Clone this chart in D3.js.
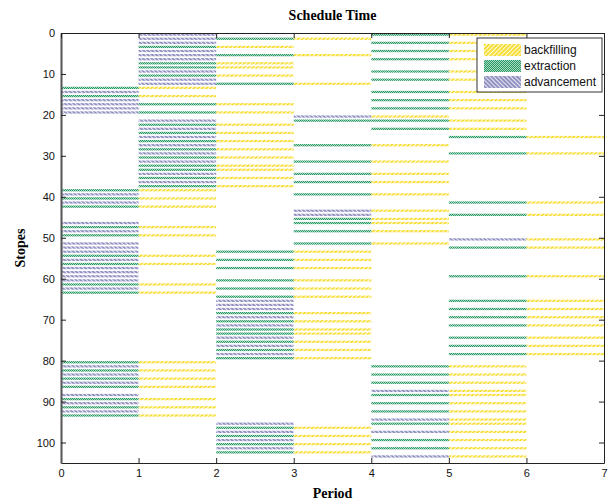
<!DOCTYPE html>
<html>
<head>
<meta charset="utf-8">
<script src="https://cdnjs.cloudflare.com/ajax/libs/d3/7.8.5/d3.min.js"></script>
<style>
    body { margin: 0; background: #fff; }
    #chart-area { width: 608px; height: 503px; }
</style>
</head>
<body>
<div id="chart-area"></div>
<script>

// stope numbers per period (index in the outer array = period)
let advancement = [
    [15, 17, 18, 19, 20, 40, 42, 47, 49, 52, 53, 54, 56, 58, 59, 60, 61, 63, 82, 84, 86, 89, 91, 93],
    [1, 2, 3, 5, 6, 7, 10, 12, 13, 22, 24, 26, 28, 30, 32, 35, 37],
    [66, 67, 68, 70, 72, 75, 77, 79, 96, 98, 100, 102],
    [21, 44, 45],
    [88, 95, 98, 104],
    [51],
    []
];
let extraction = [
    [14, 16, 39, 41, 43, 48, 50, 55, 57, 62, 64, 81, 83, 85, 87, 90, 92, 94],
    [4, 8, 9, 11, 18, 20, 23, 25, 27, 29, 31, 33, 34, 36, 38],
    [2, 6, 13, 54, 56, 58, 61, 63, 65, 69, 71, 73, 74, 76, 78, 80, 97, 99, 101, 103],
    [22, 28, 32, 35, 37, 40, 46, 47, 49, 52],
    [1, 3, 5, 7, 10, 12, 15, 17, 19, 22, 24, 82, 84, 86, 89, 91, 93, 96, 100, 102],
    [26, 30, 42, 45, 53, 60, 66, 68, 70, 72, 75, 77, 79],
    []
];
let backfilling = [
    [],
    [14, 16, 39, 41, 43, 48, 50, 55, 57, 62, 64, 81, 83, 85, 87, 90, 92, 94],
    [4, 8, 9, 11, 18, 20, 23, 25, 27, 29, 31, 33, 34, 36, 38],
    [2, 6, 13, 54, 56, 58, 61, 63, 65, 69, 71, 73, 74, 76, 78, 80, 97, 99, 101, 103],
    [21, 28, 32, 35, 37, 40, 44, 46, 47, 49, 52],
    [1, 3, 5, 7, 10, 12, 15, 17, 19, 22, 24, 82, 84, 86, 88, 89, 91, 93, 95, 96, 98, 100, 102, 104],
    [26, 30, 42, 45, 51, 53, 60, 66, 68, 70, 72, 75, 77, 79]
];

let activities = ["backfilling", "extraction", "advancement"];
let xTicks = [0, 1, 2, 3, 4, 5, 6, 7];
let yTicks = [0, 10, 20, 30, 40, 50, 60, 70, 80, 90, 100];


class ScheduleVis {

    constructor(parentElement) {
        this.parentElement = parentElement;
        this.initVis();
    }

    initVis() {
        let vis = this;

        vis.margin = {top: 33, right: 4, bottom: 40, left: 61};
        vis.width = 608 - vis.margin.left - vis.margin.right;
        vis.height = 503 - vis.margin.top - vis.margin.bottom;

        vis.root = d3.select("#" + vis.parentElement).append("svg")
            .attr("width", 608)
            .attr("height", 503);

        vis.defs = vis.root.append("defs");
        vis.makePatterns();

        vis.svg = vis.root.append("g")
            .attr("transform", `translate(${vis.margin.left}, ${vis.margin.top})`);

        vis.x = d3.scaleLinear()
            .domain([0, 7])
            .range([0, vis.width]);

        vis.y = d3.scaleLinear()
            .domain([0, 105])
            .range([0, vis.height]);

        vis.wrangleData();
    }

    makePatterns() {
        let vis = this;

        // yellow "///" hatch
        let p1 = vis.defs.append("pattern")
            .attr("id", "pat-backfilling")
            .attr("patternUnits", "userSpaceOnUse")
            .attr("width", 3).attr("height", 3)
            .attr("patternTransform", "rotate(45)");
        p1.append("rect").attr("width", 3).attr("height", 3).attr("fill", "#fffbe0");
        p1.append("line").attr("x1", 1).attr("y1", 0).attr("x2", 1).attr("y2", 3)
            .attr("stroke", "#f4d60c").attr("stroke-width", 1.6);

        // green dotted
        let p2 = vis.defs.append("pattern")
            .attr("id", "pat-extraction")
            .attr("patternUnits", "userSpaceOnUse")
            .attr("width", 2).attr("height", 2);
        p2.append("rect").attr("width", 2).attr("height", 2).attr("fill", "#a6dcc0");
        p2.append("rect").attr("width", 1).attr("height", 1).attr("fill", "#2a9565");
        p2.append("rect").attr("x", 1).attr("y", 1).attr("width", 1).attr("height", 1).attr("fill", "#2a9565");

        // blue "\\\" hatch
        let p3 = vis.defs.append("pattern")
            .attr("id", "pat-advancement")
            .attr("patternUnits", "userSpaceOnUse")
            .attr("width", 3).attr("height", 3)
            .attr("patternTransform", "rotate(-45)");
        p3.append("rect").attr("width", 3).attr("height", 3).attr("fill", "#e6e6f4");
        p3.append("line").attr("x1", 1).attr("y1", 0).attr("x2", 1).attr("y2", 3)
            .attr("stroke", "#3d3d8f").attr("stroke-width", 1);
    }

    wrangleData() {
        let vis = this;

        vis.displayData = [];
        let lists = {backfilling: backfilling, extraction: extraction, advancement: advancement};

        activities.forEach(act => {
            lists[act].forEach((stopes, period) => {
                stopes.forEach(s => {
                    vis.displayData.push({period: period, stope: s, activity: act});
                });
            });
        });

        vis.updateVis();
    }

    updateVis() {
        let vis = this;
        let barH = vis.y(0.55) - vis.y(0);

        vis.svg.selectAll(".bar").data(vis.displayData)
            .enter()
            .append("rect")
            .attr("class", "bar")
            .attr("x", d => vis.x(d.period))
            .attr("width", d => vis.x(d.period + 1) - vis.x(d.period))
            .attr("y", d => vis.y(d.stope - 0.6) - barH / 2)
            .attr("height", barH)
            .attr("fill", d => "url(#pat-" + d.activity + ")");

        // axes, MATLAB style: box with ticks pointing inward
        vis.xAxis = d3.axisBottom(vis.x).tickValues(xTicks).tickFormat(d3.format("d"))
            .tickSizeInner(-5).tickSizeOuter(0).tickPadding(6);
        vis.yAxis = d3.axisLeft(vis.y).tickValues(yTicks).tickSizeInner(-5).tickSizeOuter(0).tickPadding(6);

        vis.svg.append("g")
            .attr("class", "x-axis axis")
            .attr("transform", "translate(0," + vis.height + ")")
            .call(vis.xAxis);
        vis.svg.append("g")
            .attr("class", "y-axis axis")
            .call(vis.yAxis);
        vis.svg.append("g")
            .attr("class", "axis")
            .call(d3.axisTop(vis.x).tickValues(xTicks).tickSizeInner(-5).tickSizeOuter(0).tickFormat(""));
        vis.svg.append("g")
            .attr("class", "axis")
            .attr("transform", "translate(" + vis.width + ",0)")
            .call(d3.axisRight(vis.y).tickValues(yTicks).tickSizeInner(-5).tickSizeOuter(0).tickFormat(""));

        vis.svg.selectAll(".axis .domain").attr("stroke", "#222");
        vis.svg.select(".y-axis .domain").attr("stroke", "#555").attr("stroke-width", 2);
        vis.svg.selectAll(".axis line").attr("stroke", "#222");
        vis.svg.selectAll(".axis text")
            .attr("fill", "#111")
            .style("font-family", "'Liberation Sans', Arial, sans-serif")
            .style("font-size", "11px");

        // titles
        vis.root.append("text")
            .attr("x", vis.margin.left + vis.width / 2)
            .attr("y", 20)
            .attr("text-anchor", "middle")
            .style("font-family", "'Liberation Serif', 'Times New Roman', serif")
            .style("font-weight", "bold")
            .style("font-size", "14px")
            .text("Schedule Time");

        vis.root.append("text")
            .attr("x", vis.margin.left + vis.width / 2)
            .attr("y", 498)
            .attr("text-anchor", "middle")
            .style("font-family", "'Liberation Serif', 'Times New Roman', serif")
            .style("font-weight", "bold")
            .style("font-size", "14px")
            .text("Period");

        vis.root.append("text")
            .attr("transform", "translate(25," + (vis.margin.top + vis.height / 2) + ") rotate(-90)")
            .attr("text-anchor", "middle")
            .style("font-family", "'Liberation Serif', 'Times New Roman', serif")
            .style("font-weight", "bold")
            .style("font-size", "14px")
            .text("Stopes");

        // legend
        let legend = vis.root.append("g").attr("transform", "translate(477,38)");
        legend.append("rect")
            .attr("width", 125).attr("height", 54)
            .attr("fill", "#fff").attr("stroke", "#333");
        activities.forEach((act, i) => {
            legend.append("rect")
                .attr("x", 7).attr("y", 6 + i * 16)
                .attr("width", 37).attr("height", 12)
                .attr("fill", "url(#pat-" + act + ")");
            legend.append("text")
                .attr("x", 47).attr("y", 12 + i * 16)
                .attr("dy", "0.35em")
                .style("font-family", "'Liberation Sans', Arial, sans-serif")
                .style("font-size", "12px")
                .attr("fill", "#111")
                .text(act);
        });
    }
}

let scheduleVis = new ScheduleVis("chart-area");
</script>
</body>
</html>
